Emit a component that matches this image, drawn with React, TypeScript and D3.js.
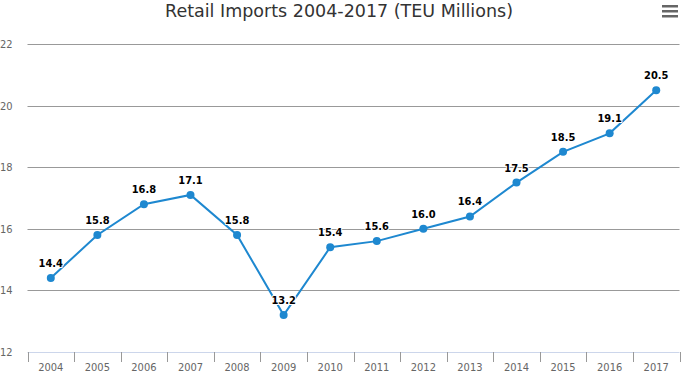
import React from "react";
import * as d3 from "d3";

const years = ["2004","2005","2006","2007","2008","2009","2010","2011","2012","2013","2014","2015","2016","2017"];
const values = [14.4,15.8,16.8,17.1,15.8,13.2,15.4,15.6,16.0,16.4,17.5,18.5,19.1,20.5];
const yTicks = [12,14,16,18,20,22];
const title = "Retail Imports 2004-2017 (TEU Millions)";

const W = 685, H = 381;
const left = 27.5, right = 679.5, top = 44, bottom = 352;
const font = "'DejaVu Sans Condensed', 'Open Sans', sans-serif";

export default function App() {
  const x = d3.scaleBand().domain(years).range([left, right]);
  const y = d3.scaleLinear().domain([12, 22]).range([bottom, top]);
  const cx = (d: string) => (x(d) as number) + x.bandwidth() / 2;
  const line = d3.line<number>().x((_, i) => cx(years[i])).y(v => y(v));
  const tickXs = years.map(d => x(d) as number).concat([right]);
  return (
    <svg width={W} height={H} style={{ position: "absolute", left: 0, top: 0, fontFamily: font }}>
      <rect width={W} height={H} fill="#fff" />
      <text x={339} y={17} textAnchor="middle" fontSize={17.5} fill="#333" fontFamily="'DejaVu Sans', sans-serif">{title}</text>
      <g fill="#666">
        <rect x={662} y={5} width={16} height={2.5} />
        <rect x={662} y={10} width={16} height={2.5} />
        <rect x={662} y={15} width={16} height={2.5} />
      </g>
      {yTicks.map(t => (
        <g key={t}>
          {t !== 12 && <line x1={left} x2={right} y1={Math.round(y(t)) + 0.5} y2={Math.round(y(t)) + 0.5} stroke="#999" strokeWidth={1} />}
          <text x={0} y={y(t) + 4} fontSize={11} fill="#666">{t}</text>
        </g>
      ))}
      <line x1={left} x2={right} y1={bottom + 0.5} y2={bottom + 0.5} stroke="#ccd6eb" />
      {tickXs.map((tx, i) => (
        <line key={i} x1={Math.round(tx) + 0.5} x2={Math.round(tx) + 0.5} y1={bottom} y2={bottom + 10} stroke="#999" />
      ))}
      {years.map(d => (
        <text key={d} x={cx(d)} y={371} textAnchor="middle" fontSize={11} fill="#666">{d}</text>
      ))}
      <path d={line(values) || ""} fill="none" stroke="#1e88d0" strokeWidth={2} />
      {values.map((v, i) => (
        <circle key={i} cx={cx(years[i])} cy={y(v)} r={4} fill="#1e88d0" />
      ))}
      {values.map((v, i) => (
        <text key={"l" + i} x={cx(years[i])} y={y(v) - 11} textAnchor="middle" fontSize={11} fontWeight="bold" fill="#000" stroke="#fff" strokeWidth={2} paintOrder="stroke" strokeLinejoin="round">{v.toFixed(1)}</text>
      ))}
    </svg>
  );
}
